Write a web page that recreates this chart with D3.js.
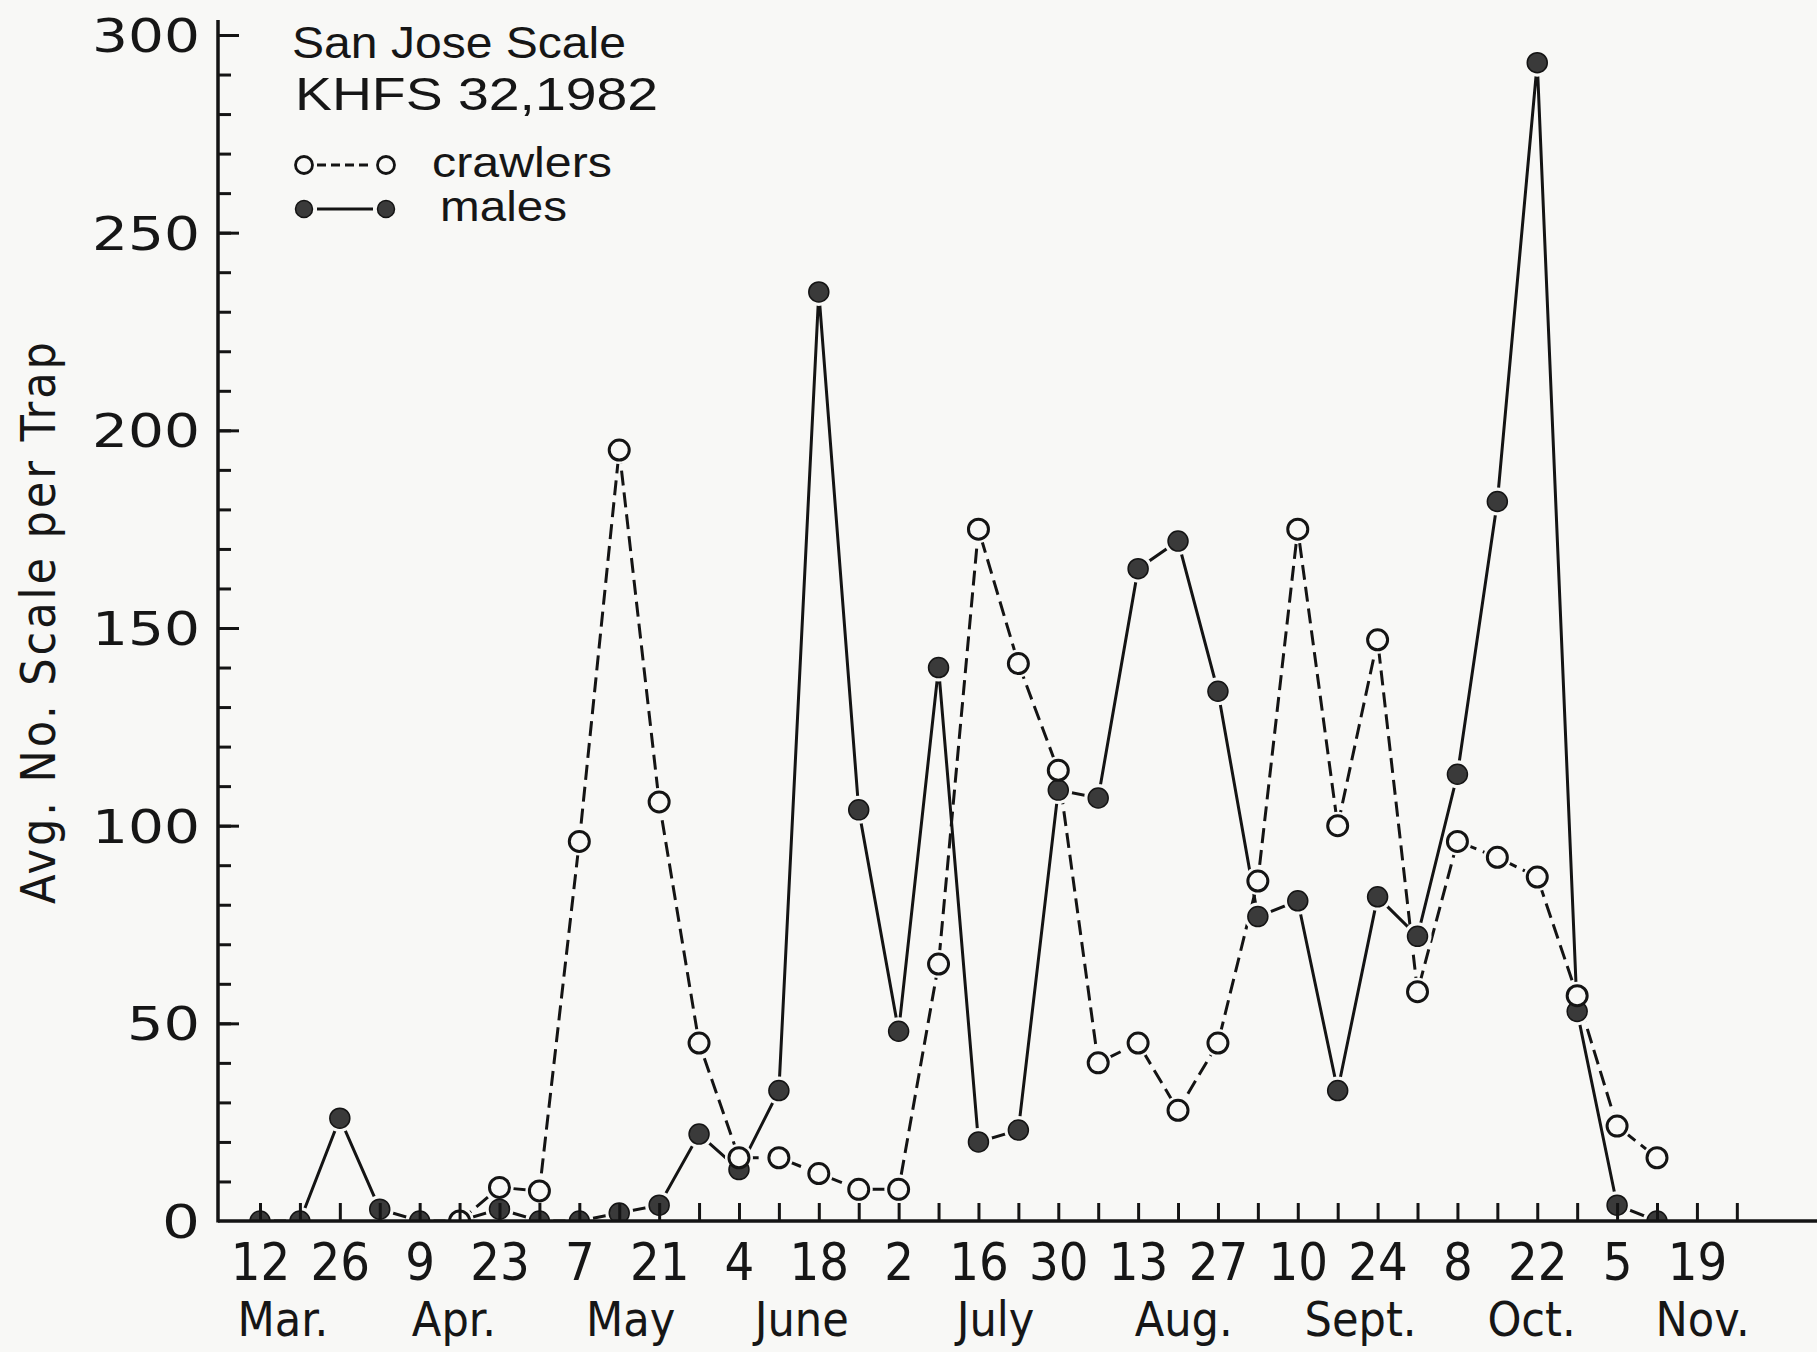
<!DOCTYPE html>
<html>
<head>
<meta charset="utf-8">
<script src="https://cdn.jsdelivr.net/npm/d3@7"></script>
<style>
  body { margin: 0; background: #f8f8f6; }
  text { fill: #161616; }
</style>
</head>
<body>
<script>

// sampling dates (weekly, Fridays)
var sampleDates = ["1982-03-12","1982-03-19","1982-03-26","1982-04-02","1982-04-09","1982-04-16",
  "1982-04-23","1982-04-30","1982-05-07","1982-05-14","1982-05-21","1982-05-28","1982-06-04",
  "1982-06-11","1982-06-18","1982-06-25","1982-07-02","1982-07-09","1982-07-16","1982-07-23",
  "1982-07-30","1982-08-06","1982-08-13","1982-08-20","1982-08-27","1982-09-03","1982-09-10",
  "1982-09-17","1982-09-24","1982-10-01","1982-10-08","1982-10-15","1982-10-22","1982-10-29",
  "1982-11-05","1982-11-12"];

// avg. no. crawlers per trap (null = not sampled)
var crawlers = [null, null, null, null, null, 0, 8.5, 7.6, 96, 195, 106, 45, 16, 16, 12, 8, 8,
  65, 175, 141, 114, 40, 45, 28, 45, 86, 175, 100, 147, 58, 96, 92, 87, 57, 24, 16];

// avg. no. males per trap
var males = [0, 0, 26, 3, 0, 0, 3, 0, 0, 2, 4, 22, 13, 33, 235, 104, 48, 140, 20, 23, 109, 107,
  165, 172, 134, 77, 81, 33, 82, 72, 113, 182, 293, 53, 4, 0];

var dayLabels = ["12","26","9","23","7","21","4","18","2","16","30","13","27","10","24","8","22","5","19"];
var monthLabels = ["Mar.","Apr.","May","June","July","Aug.","Sept.","Oct.","Nov."];
var monthAnchors = ["1982-03-16","1982-04-15","1982-05-16","1982-06-15","1982-07-19",
  "1982-08-21","1982-09-21","1982-10-21","1982-11-20"];
var yTicks = [0, 50, 100, 150, 200, 250, 300];

var W = 1817, H = 1352;
var bg = "#f8f8f6", ink = "#141414";
var narrow = "'Liberation Sans Narrow', 'DejaVu Sans Condensed', 'Liberation Sans', sans-serif";
var parse = d3.utcParse("%Y-%m-%d");

var x = d3.scaleUtc()
    .domain([parse("1982-03-12"), parse("1982-11-12")])
    .range([260, 1657]);
var y = d3.scaleLinear().domain([0, 300]).range([1221, 35]);
var axisX = 218;

var svg = d3.select("body").append("svg")
    .attr("width", W)
    .attr("height", H)
    .style("background", bg);

// data rows
var crawlData = sampleDates.map(function(d, i) { return {date: parse(d), value: crawlers[i]}; })
    .filter(function(d) { return d.value !== null; });
var maleData = sampleDates.map(function(d, i) { return {date: parse(d), value: males[i]}; });

var defs = svg.append("defs");
defs.append("clipPath").attr("id", "above")
  .append("rect").attr("x", 0).attr("y", 0).attr("width", W).attr("height", y(0));

// mask that leaves a small gap between lines and markers
var mask = defs.append("mask").attr("id", "gaps")
    .attr("maskUnits", "userSpaceOnUse")
    .attr("x", 0).attr("y", 0).attr("width", W).attr("height", H);
mask.append("rect").attr("width", W).attr("height", H).attr("fill", "white");
mask.selectAll("circle")
  .data(crawlData.concat(maleData))
  .enter().append("circle")
    .attr("cx", function(d) { return x(d.date); })
    .attr("cy", function(d) { return y(d.value); })
    .attr("r", 14)
    .attr("fill", "black");

var line = d3.line()
    .x(function(d) { return x(d.date); })
    .y(function(d) { return y(d.value); });

var plot = svg.append("g").attr("clip-path", "url(#above)");
var lines = plot.append("g").attr("mask", "url(#gaps)");

lines.append("path")
    .datum(maleData)
    .attr("fill", "none")
    .attr("stroke", ink)
    .attr("stroke-width", 3)
    .attr("d", line);

lines.append("path")
    .datum(crawlData)
    .attr("fill", "none")
    .attr("stroke", ink)
    .attr("stroke-width", 3)
    .attr("stroke-dasharray", "15,7")
    .attr("d", line);

plot.selectAll(".male")
  .data(maleData)
  .enter().append("circle")
    .attr("class", "male")
    .attr("cx", function(d) { return x(d.date); })
    .attr("cy", function(d) { return y(d.value); })
    .attr("r", 10)
    .attr("fill", "#3a3a3a")
    .attr("stroke", ink)
    .attr("stroke-width", 1.5);

plot.selectAll(".crawl")
  .data(crawlData)
  .enter().append("circle")
    .attr("class", "crawl")
    .attr("cx", function(d) { return x(d.date); })
    .attr("cy", function(d) { return y(d.value); })
    .attr("r", 10)
    .attr("fill", bg)
    .attr("stroke", ink)
    .attr("stroke-width", 3);

// x axis: weekly ticks pointing up, labels every two weeks
var weeks = d3.utcFriday.range(parse("1982-03-12"), parse("1982-11-27"));
var xAxis = d3.axisBottom(x)
    .tickValues(weeks)
    .tickSizeInner(-18)
    .tickSizeOuter(0)
    .tickPadding(22)
    .tickFormat(function(d, i) { return i % 2 === 0 ? (dayLabels[i / 2] || "") : ""; });

var gx = svg.append("g")
    .attr("transform", "translate(0," + y(0) + ")")
    .call(xAxis);
gx.select(".domain").remove();
gx.selectAll(".tick line").attr("stroke", ink).attr("stroke-width", 3);
gx.selectAll(".tick text")
    .attr("font-family", narrow)
    .attr("font-size", 52)
    .attr("fill", ink);

svg.append("line")
    .attr("x1", axisX).attr("x2", W)
    .attr("y1", y(0)).attr("y2", y(0))
    .attr("stroke", ink)
    .attr("stroke-width", 3.5);

svg.selectAll(".month")
  .data(monthLabels)
  .enter().append("text")
    .attr("class", "month")
    .attr("x", function(d, i) { return x(parse(monthAnchors[i])); })
    .attr("y", 1336)
    .attr("text-anchor", "middle")
    .attr("font-family", narrow)
    .attr("font-size", 48)
    .text(function(d) { return d; });

// y axis: minor ticks every 10, major every 50, ticks inside
var yMinor = d3.axisLeft(y)
    .tickValues(d3.range(10, 301, 10))
    .tickSizeInner(-13)
    .tickSizeOuter(0)
    .tickFormat("");
var gyMinor = svg.append("g")
    .attr("transform", "translate(" + axisX + ",0)")
    .call(yMinor);
gyMinor.select(".domain").remove();
gyMinor.selectAll(".tick line").attr("stroke", ink).attr("stroke-width", 3);

var yMajor = d3.axisLeft(y)
    .tickValues(yTicks.slice(1))
    .tickSizeInner(-21)
    .tickSizeOuter(0)
    .tickFormat("");
var gyMajor = svg.append("g")
    .attr("transform", "translate(" + axisX + ",0)")
    .call(yMajor);
gyMajor.select(".domain").remove();
gyMajor.selectAll(".tick line").attr("stroke", ink).attr("stroke-width", 3);

svg.append("line")
    .attr("x1", axisX).attr("x2", axisX)
    .attr("y1", y(0) + 1.5).attr("y2", 20)
    .attr("stroke", ink)
    .attr("stroke-width", 3.5);

svg.selectAll(".ylab")
  .data(yTicks)
  .enter().append("text")
    .attr("class", "ylab")
    .attr("x", 200)
    .attr("y", function(d) { return y(d); })
    .attr("dy", "0.36em")
    .attr("text-anchor", "end")
    .attr("font-family", "'DejaVu Sans', sans-serif")
    .attr("font-size", 47)
    .attr("textLength", function(d) { return String(d).length * 35 + 3; })
    .attr("lengthAdjust", "spacingAndGlyphs")
    .text(function(d) { return d; });

svg.append("text")
    .attr("transform", "translate(55,623) rotate(-90)")
    .attr("text-anchor", "middle")
    .attr("font-family", narrow)
    .attr("font-size", 48)
    .attr("textLength", 562)
    .attr("lengthAdjust", "spacing")
    .text("Avg. No. Scale per Trap");

// title block
svg.append("text")
    .attr("x", 292).attr("y", 58)
    .attr("font-family", "'Liberation Sans', sans-serif")
    .attr("font-size", 45)
    .attr("textLength", 334)
    .attr("lengthAdjust", "spacingAndGlyphs")
    .text("San Jose Scale");

svg.append("text")
    .attr("x", 295).attr("y", 110)
    .attr("font-family", "'Liberation Sans', sans-serif")
    .attr("font-size", 47)
    .attr("textLength", 363)
    .attr("lengthAdjust", "spacingAndGlyphs")
    .text("KHFS 32,1982");

// legend
var legend = [
  {label: "crawlers", y: 165, dash: "9,5", open: true, tx: 432, tl: 180},
  {label: "males", y: 209, dash: null, open: false, tx: 440, tl: 127}
];
var lg = svg.selectAll(".legend")
  .data(legend)
  .enter().append("g")
    .attr("class", "legend");

lg.append("line")
    .attr("x1", 317).attr("x2", 373)
    .attr("y1", function(d) { return d.y; })
    .attr("y2", function(d) { return d.y; })
    .attr("stroke", ink)
    .attr("stroke-width", 2.8)
    .attr("stroke-dasharray", function(d) { return d.dash; });

[304, 386].forEach(function(cx) {
  lg.append("circle")
      .attr("cx", cx)
      .attr("cy", function(d) { return d.y; })
      .attr("r", 8.5)
      .attr("fill", function(d) { return d.open ? bg : "#3a3a3a"; })
      .attr("stroke", ink)
      .attr("stroke-width", function(d) { return d.open ? 2.8 : 1.5; });
});

lg.append("text")
    .attr("x", function(d) { return d.tx; })
    .attr("y", function(d) { return d.y + 12; })
    .attr("font-family", "'Liberation Sans', sans-serif")
    .attr("font-size", 43)
    .attr("textLength", function(d) { return d.tl; })
    .attr("lengthAdjust", "spacingAndGlyphs")
    .text(function(d) { return d.label; });

</script>
</body>
</html>
